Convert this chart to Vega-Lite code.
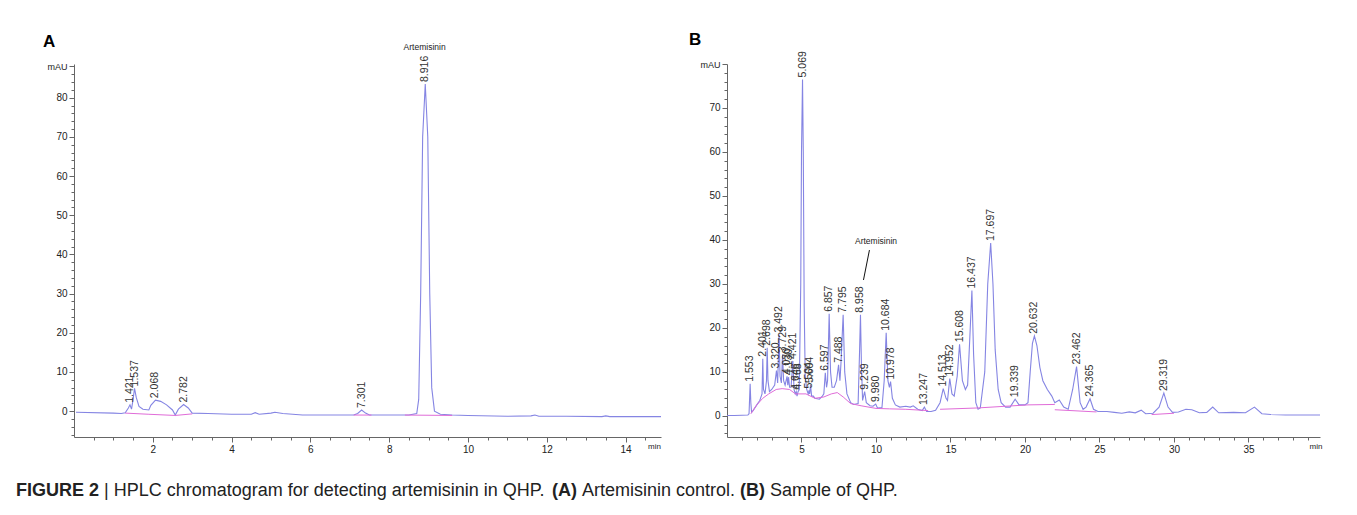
{
  "$schema": "https://vega.github.io/schema/vega-lite/v6.json",
  "autosize": {"type": "pad"},
  "padding": {"left": 16, "top": 30, "right": 0, "bottom": 0},
  "background": "white",
  "config": {
    "view": {"stroke": null},
    "font": "Liberation Sans",
    "axis": {
      "labelFont": "Liberation Sans",
      "labelColor": "#222",
      "domainColor": "#666",
      "tickColor": "#666",
      "grid": false,
      "title": null,
      "labelOverlap": false,
      "labelFlush": false,
      "labelBound": false
    }
  },
  "datasets": {
    "traceA": [
      {"t": 0.05, "v": -0.3}, {"t": 1.0, "v": -0.5}, {"t": 1.2, "v": -0.6}, {"t": 1.3, "v": -0.4},
      {"t": 1.38, "v": 0.8}, {"t": 1.421, "v": 1.6}, {"t": 1.46, "v": 0.5}, {"t": 1.5, "v": 3},
      {"t": 1.537, "v": 5.8}, {"t": 1.58, "v": 3.5}, {"t": 1.65, "v": 1.2}, {"t": 1.75, "v": 0.5},
      {"t": 1.9, "v": 0.3}, {"t": 1.95, "v": 1.5}, {"t": 2.068, "v": 2.8}, {"t": 2.2, "v": 2.5},
      {"t": 2.35, "v": 1.6}, {"t": 2.5, "v": 0.3}, {"t": 2.57, "v": -1.0}, {"t": 2.65, "v": 0.5},
      {"t": 2.782, "v": 1.7}, {"t": 2.9, "v": 0.8}, {"t": 3.0, "v": -0.5}, {"t": 3.4, "v": -0.6},
      {"t": 4.0, "v": -0.8}, {"t": 4.5, "v": -0.8}, {"t": 4.6, "v": -0.4}, {"t": 4.7, "v": -0.8},
      {"t": 5.0, "v": -0.5}, {"t": 5.1, "v": -0.3}, {"t": 5.3, "v": -0.6}, {"t": 5.8, "v": -1.0},
      {"t": 6.5, "v": -1.0}, {"t": 7.1, "v": -1.0}, {"t": 7.2, "v": -0.6}, {"t": 7.301, "v": 0.3},
      {"t": 7.4, "v": -0.5}, {"t": 7.5, "v": -1.0}, {"t": 8.0, "v": -1.0}, {"t": 8.5, "v": -1.0},
      {"t": 8.7, "v": -0.6}, {"t": 8.75, "v": 3}, {"t": 8.8, "v": 30}, {"t": 8.85, "v": 70},
      {"t": 8.916, "v": 83.5}, {"t": 8.98, "v": 70}, {"t": 9.03, "v": 30}, {"t": 9.08, "v": 6},
      {"t": 9.15, "v": 0}, {"t": 9.3, "v": -0.8}, {"t": 9.6, "v": -1.0}, {"t": 10.0, "v": -1.1},
      {"t": 11.0, "v": -1.3}, {"t": 11.6, "v": -1.2}, {"t": 11.7, "v": -1.0}, {"t": 11.8, "v": -1.3},
      {"t": 12.5, "v": -1.3}, {"t": 13.4, "v": -1.4}, {"t": 13.5, "v": -1.2}, {"t": 13.6, "v": -1.4},
      {"t": 14.9, "v": -1.4}
    ],
    "baseA": [
      {"seg": 1, "t": 1.3, "v": -0.5}, {"seg": 1, "t": 1.9, "v": -0.8}, {"seg": 1, "t": 2.57, "v": -1.1}, {"seg": 1, "t": 3.0, "v": -0.7},
      {"seg": 2, "t": 7.1, "v": -1.0}, {"seg": 2, "t": 7.55, "v": -1.0},
      {"seg": 3, "t": 8.4, "v": -1.0}, {"seg": 3, "t": 9.6, "v": -1.1}
    ],
    "labelsA": [
      {"t": 1.421, "v": 1.6, "lab": "1.421"}, {"t": 1.537, "v": 5.8, "lab": "1.537"},
      {"t": 2.068, "v": 2.8, "lab": "2.068"}, {"t": 2.782, "v": 1.7, "lab": "2.782"},
      {"t": 7.301, "v": 0.3, "lab": "7.301"}, {"t": 8.916, "v": 83.5, "lab": "8.916"}
    ],
    "noteA": [{"t": 8.9, "v": 93, "lab": "Artemisinin"}],
    "letterA": [{"t": -0.79, "v": 96.3, "lab": "A"}],
    "traceB": [
      {"t": 0.0, "v": 0.1}, {"t": 0.5, "v": 0.1}, {"t": 1.0, "v": 0.15}, {"t": 1.4, "v": 0.2},
      {"t": 1.48, "v": 0.5}, {"t": 1.553, "v": 7.3}, {"t": 1.6, "v": 3}, {"t": 1.65, "v": 0.8},
      {"t": 1.75, "v": 1.2}, {"t": 2.0, "v": 2.5}, {"t": 2.2, "v": 3.5}, {"t": 2.35, "v": 5},
      {"t": 2.401, "v": 13}, {"t": 2.45, "v": 6}, {"t": 2.55, "v": 5}, {"t": 2.65, "v": 8},
      {"t": 2.698, "v": 15.5}, {"t": 2.75, "v": 8}, {"t": 2.85, "v": 5.5}, {"t": 3.0, "v": 6},
      {"t": 3.2, "v": 7}, {"t": 3.32, "v": 10.3}, {"t": 3.4, "v": 7.5}, {"t": 3.492, "v": 18.5},
      {"t": 3.56, "v": 9}, {"t": 3.65, "v": 7.5}, {"t": 3.729, "v": 14}, {"t": 3.8, "v": 8},
      {"t": 3.9, "v": 7}, {"t": 4.03, "v": 9}, {"t": 4.08, "v": 7}, {"t": 4.13, "v": 8.8},
      {"t": 4.2, "v": 6.5}, {"t": 4.3, "v": 6.5}, {"t": 4.421, "v": 12.5}, {"t": 4.5, "v": 6},
      {"t": 4.58, "v": 5}, {"t": 4.646, "v": 5.5}, {"t": 4.7, "v": 4.5}, {"t": 4.768, "v": 5.5},
      {"t": 4.85, "v": 6}, {"t": 4.95, "v": 30}, {"t": 5.0, "v": 60}, {"t": 5.069, "v": 76.5},
      {"t": 5.12, "v": 60}, {"t": 5.18, "v": 25}, {"t": 5.25, "v": 9}, {"t": 5.35, "v": 6},
      {"t": 5.45, "v": 5}, {"t": 5.504, "v": 5.8}, {"t": 5.55, "v": 5}, {"t": 5.604, "v": 7},
      {"t": 5.68, "v": 4.5}, {"t": 5.8, "v": 4.5}, {"t": 5.9, "v": 4}, {"t": 6.2, "v": 3.8},
      {"t": 6.4, "v": 4.5}, {"t": 6.5, "v": 5}, {"t": 6.597, "v": 9.8}, {"t": 6.68, "v": 6.5},
      {"t": 6.75, "v": 8}, {"t": 6.857, "v": 23.2}, {"t": 6.95, "v": 10}, {"t": 7.05, "v": 6.5},
      {"t": 7.2, "v": 6.5}, {"t": 7.35, "v": 8}, {"t": 7.488, "v": 11.6}, {"t": 7.58, "v": 8},
      {"t": 7.65, "v": 12}, {"t": 7.795, "v": 23}, {"t": 7.9, "v": 10}, {"t": 8.05, "v": 5},
      {"t": 8.3, "v": 3}, {"t": 8.5, "v": 2.6}, {"t": 8.8, "v": 2.8}, {"t": 8.9, "v": 15},
      {"t": 8.958, "v": 23}, {"t": 9.02, "v": 12}, {"t": 9.1, "v": 3.5}, {"t": 9.239, "v": 5.5},
      {"t": 9.35, "v": 3}, {"t": 9.6, "v": 2.3}, {"t": 9.8, "v": 2.2}, {"t": 9.98, "v": 2.7},
      {"t": 10.1, "v": 1.8}, {"t": 10.4, "v": 1.9}, {"t": 10.55, "v": 8}, {"t": 10.684, "v": 18.9},
      {"t": 10.8, "v": 8}, {"t": 10.9, "v": 6.5}, {"t": 10.978, "v": 7.8}, {"t": 11.1, "v": 4},
      {"t": 11.3, "v": 2.5}, {"t": 11.6, "v": 2}, {"t": 12.0, "v": 2.2}, {"t": 12.3, "v": 2},
      {"t": 12.5, "v": 2.3}, {"t": 12.8, "v": 1.5}, {"t": 13.1, "v": 1.2}, {"t": 13.247, "v": 2},
      {"t": 13.4, "v": 1}, {"t": 13.7, "v": 1}, {"t": 14.0, "v": 1.3}, {"t": 14.3, "v": 3},
      {"t": 14.513, "v": 6.2}, {"t": 14.7, "v": 4}, {"t": 14.8, "v": 3.5}, {"t": 14.952, "v": 8.5},
      {"t": 15.1, "v": 5}, {"t": 15.25, "v": 4.5}, {"t": 15.45, "v": 9}, {"t": 15.608, "v": 16.3},
      {"t": 15.8, "v": 8}, {"t": 16.0, "v": 6}, {"t": 16.15, "v": 7}, {"t": 16.3, "v": 18},
      {"t": 16.437, "v": 28.5}, {"t": 16.55, "v": 14}, {"t": 16.7, "v": 3}, {"t": 16.85, "v": 1.5},
      {"t": 17.0, "v": 1.8}, {"t": 17.3, "v": 10}, {"t": 17.5, "v": 30}, {"t": 17.697, "v": 39.3},
      {"t": 17.85, "v": 30}, {"t": 18.0, "v": 15}, {"t": 18.2, "v": 6}, {"t": 18.4, "v": 3},
      {"t": 18.7, "v": 2}, {"t": 19.0, "v": 2}, {"t": 19.339, "v": 3.8}, {"t": 19.6, "v": 2.5},
      {"t": 20.0, "v": 2.5}, {"t": 20.2, "v": 3}, {"t": 20.35, "v": 10}, {"t": 20.5, "v": 16.5},
      {"t": 20.632, "v": 18.2}, {"t": 20.8, "v": 16}, {"t": 21.0, "v": 11}, {"t": 21.2, "v": 8},
      {"t": 21.5, "v": 6}, {"t": 21.8, "v": 4.5}, {"t": 22.0, "v": 3}, {"t": 22.3, "v": 3.6},
      {"t": 22.6, "v": 2}, {"t": 22.9, "v": 1.5}, {"t": 23.2, "v": 6}, {"t": 23.462, "v": 11.2},
      {"t": 23.7, "v": 3}, {"t": 23.9, "v": 1.5}, {"t": 24.1, "v": 2}, {"t": 24.365, "v": 3.9},
      {"t": 24.6, "v": 1.5}, {"t": 24.9, "v": 1}, {"t": 25.5, "v": 1}, {"t": 26.0, "v": 0.8},
      {"t": 26.5, "v": 0.6}, {"t": 27.0, "v": 0.9}, {"t": 27.4, "v": 0.7}, {"t": 27.8, "v": 1.3},
      {"t": 28.1, "v": 0.5}, {"t": 28.6, "v": 0.6}, {"t": 29.0, "v": 2}, {"t": 29.319, "v": 5.2},
      {"t": 29.6, "v": 2}, {"t": 29.9, "v": 0.8}, {"t": 30.3, "v": 0.9}, {"t": 30.8, "v": 1.5},
      {"t": 31.2, "v": 1.4}, {"t": 31.7, "v": 0.7}, {"t": 32.2, "v": 0.8}, {"t": 32.6, "v": 2},
      {"t": 33.0, "v": 0.7}, {"t": 34.0, "v": 0.8}, {"t": 34.8, "v": 0.7}, {"t": 35.4, "v": 2},
      {"t": 35.9, "v": 0.5}, {"t": 36.5, "v": 0.3}, {"t": 37.5, "v": 0.2}, {"t": 39.8, "v": 0.2}
    ],
    "baseB": [
      {"seg": 1, "t": 1.6, "v": 0.5}, {"seg": 1, "t": 2.0, "v": 2.5}, {"seg": 1, "t": 2.4, "v": 4},
      {"seg": 1, "t": 2.8, "v": 5}, {"seg": 1, "t": 3.3, "v": 6}, {"seg": 1, "t": 3.7, "v": 6.2},
      {"seg": 1, "t": 4.2, "v": 6}, {"seg": 1, "t": 4.6, "v": 5}, {"seg": 1, "t": 5.3, "v": 5},
      {"seg": 1, "t": 5.9, "v": 4}, {"seg": 1, "t": 6.5, "v": 4.3}, {"seg": 1, "t": 7.0, "v": 5},
      {"seg": 1, "t": 7.4, "v": 5.3}, {"seg": 1, "t": 7.8, "v": 4.3}, {"seg": 1, "t": 8.3, "v": 2.8},
      {"seg": 1, "t": 9.0, "v": 2.3}, {"seg": 1, "t": 10.0, "v": 1.7}, {"seg": 1, "t": 10.9, "v": 1.6},
      {"seg": 1, "t": 12.0, "v": 1.5}, {"seg": 1, "t": 13.5, "v": 1.2},
      {"seg": 2, "t": 14.3, "v": 1.5}, {"seg": 2, "t": 16.8, "v": 1.8}, {"seg": 2, "t": 20.2, "v": 2.5}, {"seg": 2, "t": 22.0, "v": 2.6},
      {"seg": 3, "t": 22.0, "v": 1.4}, {"seg": 3, "t": 24.8, "v": 0.9},
      {"seg": 4, "t": 28.5, "v": 0.3}, {"seg": 4, "t": 30.0, "v": 0.6}
    ],
    "labelsB": [
      {"t": 1.553, "v": 7.3, "lab": "1.553"}, {"t": 2.401, "v": 13, "lab": "2.401"},
      {"t": 2.698, "v": 15.5, "lab": "2.698"}, {"t": 3.32, "v": 10.3, "lab": "3.320"},
      {"t": 3.492, "v": 18.5, "lab": "3.492"}, {"t": 3.729, "v": 14, "lab": "3.729"},
      {"t": 4.03, "v": 9, "lab": "4.030"}, {"t": 4.13, "v": 8.8, "lab": "4.130"},
      {"t": 4.421, "v": 12.5, "lab": "4.421"}, {"t": 4.646, "v": 5.5, "lab": "4.646"},
      {"t": 4.768, "v": 5.5, "lab": "4.768"}, {"t": 5.069, "v": 76.5, "lab": "5.069"},
      {"t": 5.504, "v": 5.8, "lab": "5.504"}, {"t": 5.604, "v": 7, "lab": "5.604"},
      {"t": 6.597, "v": 9.8, "lab": "6.597"}, {"t": 6.857, "v": 23.2, "lab": "6.857"},
      {"t": 7.488, "v": 11.6, "lab": "7.488"}, {"t": 7.795, "v": 23, "lab": "7.795"},
      {"t": 8.958, "v": 23, "lab": "8.958"}, {"t": 9.239, "v": 5.5, "lab": "9.239"},
      {"t": 9.98, "v": 2.7, "lab": "9.980"}, {"t": 10.684, "v": 18.9, "lab": "10.684"},
      {"t": 10.978, "v": 7.8, "lab": "10.978"}, {"t": 13.247, "v": 2, "lab": "13.247"},
      {"t": 14.513, "v": 6.2, "lab": "14.513"}, {"t": 14.952, "v": 8.5, "lab": "14.952"},
      {"t": 15.608, "v": 16.3, "lab": "15.608"}, {"t": 16.437, "v": 28.5, "lab": "16.437"},
      {"t": 17.697, "v": 39.3, "lab": "17.697"}, {"t": 19.339, "v": 3.8, "lab": "19.339"},
      {"t": 20.632, "v": 18.2, "lab": "20.632"}, {"t": 23.462, "v": 11.2, "lab": "23.462"},
      {"t": 24.365, "v": 3.9, "lab": "24.365"}, {"t": 29.319, "v": 5.2, "lab": "29.319"}
    ],
    "noteB": [{"t": 10.0, "v": 39.8, "lab": "Artemisinin"}],
    "letterB": [{"t": -2.55, "v": 87.3, "lab": "B"}],
    "leaderB": [{"t1": 9.16, "v1": 30.9, "t2": 9.56, "v2": 37.7}],
    "caption": [
      {"s": "FIGURE 2", "p": 0, "b": 1},
      {"s": "| HPLC chromatogram for detecting artemisinin in QHP.", "p": 4.89, "b": 0},
      {"s": "(A)", "p": 29.769, "b": 1},
      {"s": "Artemisinin control.", "p": 31.435, "b": 0},
      {"s": "(B)", "p": 40.215, "b": 1},
      {"s": "Sample of QHP.", "p": 41.881, "b": 0}
    ]
  },
  "vconcat": [
    {
      "hconcat": [
        {
          "width": 587,
          "height": 373,
          "layer": [
            {
              "data": {"name": "traceA"},
              "mark": {"type": "line", "color": "#8585e3", "strokeWidth": 1.1},
              "encoding": {
                "x": {"field": "t", "type": "quantitative", "scale": {"domain": [0, 14.9], "nice": false, "zero": false},
                  "axis": {
                    "values": [0.5,1,1.5,2,2.5,3,3.5,4,4.5,5,5.5,6,6.5,7,7.5,8,8.5,9,9.5,10,10.5,11,11.5,12,12.5,13,13.5,14,14.5,14.72],
                    "tickCount": 500,
                    "labelExpr": "datum.value === 14.72 ? 'min' : (datum.value % 2 === 0 ? '' + datum.value : '')",
                    "tickSize": {"condition": {"test": "datum.value % 2 === 0", "value": 5}, "value": 3},
                    "tickOpacity": {"condition": {"test": "datum.value === 14.72", "value": 0}, "value": 1},
                    "labelFontSize": {"condition": {"test": "datum.value === 14.72", "value": 8}, "value": 10},
                    "labelPadding": 2,
                    "labelOverlap": false
                  }},
                "y": {"field": "v", "type": "quantitative", "scale": {"domain": [-6.6, 88.6], "nice": false, "zero": false},
                  "axis": {
                    "values": [-6,-4,-2,0,2,4,6,8,10,12,14,16,18,20,22,24,26,28,30,32,34,36,38,40,42,44,46,48,50,52,54,56,58,60,62,64,66,68,70,72,74,76,78,80,82,84,86,88],
                    "tickCount": 500,
                    "labelExpr": "datum.value === 88 ? 'mAU' : (datum.value % 10 === 0 ? '' + datum.value : '')",
                    "tickSize": {"condition": {"test": "datum.value % 10 === 0 || datum.value === 88", "value": 5}, "value": 3},
                    "labelFontSize": {"condition": {"test": "datum.value === 88", "value": 9}, "value": 10},
                    "labelPadding": 2,
                    "labelOverlap": false,
                    "minExtent": 30,
                    "maxExtent": 30
                  }}
              }
            },
            {
              "data": {"name": "baseA"},
              "mark": {"type": "line", "color": "#e06cd8", "strokeWidth": 1},
              "encoding": {
                "x": {"field": "t", "type": "quantitative"},
                "y": {"field": "v", "type": "quantitative"},
                "detail": {"field": "seg", "type": "nominal"}
              }
            },
            {
              "data": {"name": "labelsA"},
              "mark": {"type": "text", "angle": 270, "align": "left", "baseline": "middle", "dx": 2, "fontSize": 10.5, "color": "#333"},
              "encoding": {
                "x": {"field": "t", "type": "quantitative"},
                "y": {"field": "v", "type": "quantitative"},
                "text": {"field": "lab", "type": "nominal"}
              }
            },
            {
              "data": {"name": "noteA"},
              "mark": {"type": "text", "align": "center", "baseline": "middle", "fontSize": 8.5, "color": "#222"},
              "encoding": {
                "x": {"field": "t", "type": "quantitative"},
                "y": {"field": "v", "type": "quantitative"},
                "text": {"field": "lab", "type": "nominal"}
              }
            },
            {
              "data": {"name": "letterA"},
              "mark": {"type": "text", "align": "left", "baseline": "top", "fontSize": 17, "fontWeight": "bold", "color": "#000"},
              "encoding": {
                "x": {"field": "t", "type": "quantitative"},
                "y": {"field": "v", "type": "quantitative"},
                "text": {"field": "lab", "type": "nominal"}
              }
            }
          ]
        },
        {
          "width": 593,
          "height": 373,
          "layer": [
            {
              "data": {"name": "traceB"},
              "mark": {"type": "line", "color": "#8585e3", "strokeWidth": 1.1},
              "encoding": {
                "x": {"field": "t", "type": "quantitative", "scale": {"domain": [0, 39.8], "nice": false, "zero": false},
                  "axis": {
                    "values": [1,2,3,4,5,6,7,8,9,10,11,12,13,14,15,16,17,18,19,20,21,22,23,24,25,26,27,28,29,30,31,32,33,34,35,36,37,38,39,39.5],
                    "tickCount": 500,
                    "labelExpr": "datum.value === 39.5 ? 'min' : (datum.value % 5 === 0 ? '' + datum.value : '')",
                    "tickSize": {"condition": {"test": "datum.value % 5 === 0", "value": 5}, "value": 3},
                    "tickOpacity": {"condition": {"test": "datum.value === 39.5", "value": 0}, "value": 1},
                    "labelFontSize": {"condition": {"test": "datum.value === 39.5", "value": 8}, "value": 10},
                    "labelPadding": 2,
                    "labelOverlap": false
                  }},
                "y": {"field": "v", "type": "quantitative", "scale": {"domain": [-4.8, 80], "nice": false, "zero": false},
                  "axis": {
                    "values": [-4,-2,0,2,4,6,8,10,12,14,16,18,20,22,24,26,28,30,32,34,36,38,40,42,44,46,48,50,52,54,56,58,60,62,64,66,68,70,72,74,76,78,80],
                    "tickCount": 500,
                    "labelExpr": "datum.value === 80 ? 'mAU' : (datum.value % 10 === 0 ? '' + datum.value : '')",
                    "tickSize": {"condition": {"test": "datum.value % 10 === 0", "value": 5}, "value": 3},
                    "labelFontSize": {"condition": {"test": "datum.value === 80", "value": 9}, "value": 10},
                    "labelPadding": 2,
                    "labelOverlap": false,
                    "minExtent": 30,
                    "maxExtent": 30
                  }}
              }
            },
            {
              "data": {"name": "baseB"},
              "mark": {"type": "line", "color": "#e06cd8", "strokeWidth": 1},
              "encoding": {
                "x": {"field": "t", "type": "quantitative"},
                "y": {"field": "v", "type": "quantitative"},
                "detail": {"field": "seg", "type": "nominal"}
              }
            },
            {
              "data": {"name": "labelsB"},
              "mark": {"type": "text", "angle": 270, "align": "left", "baseline": "middle", "dx": 2, "fontSize": 10.5, "color": "#333"},
              "encoding": {
                "x": {"field": "t", "type": "quantitative"},
                "y": {"field": "v", "type": "quantitative"},
                "text": {"field": "lab", "type": "nominal"}
              }
            },
            {
              "data": {"name": "leaderB"},
              "mark": {"type": "rule", "color": "#111", "strokeWidth": 1},
              "encoding": {
                "x": {"field": "t1", "type": "quantitative"},
                "y": {"field": "v1", "type": "quantitative"},
                "x2": {"field": "t2"},
                "y2": {"field": "v2"}
              }
            },
            {
              "data": {"name": "noteB"},
              "mark": {"type": "text", "align": "center", "baseline": "middle", "fontSize": 8.5, "color": "#222"},
              "encoding": {
                "x": {"field": "t", "type": "quantitative"},
                "y": {"field": "v", "type": "quantitative"},
                "text": {"field": "lab", "type": "nominal"}
              }
            },
            {
              "data": {"name": "letterB"},
              "mark": {"type": "text", "align": "left", "baseline": "top", "fontSize": 17, "fontWeight": "bold", "color": "#000"},
              "encoding": {
                "x": {"field": "t", "type": "quantitative"},
                "y": {"field": "v", "type": "quantitative"},
                "text": {"field": "lab", "type": "nominal"}
              }
            }
          ]
        }
      ],
      "spacing": 66,
      "bounds": "flush"
    },
    {
      "width": 884,
      "height": 20,
      "data": {"name": "caption"},
      "encoding": {
        "x": {"field": "p", "type": "quantitative", "scale": {"domain": [0, 49.106], "nice": false, "zero": false}, "axis": null},
        "text": {"field": "s", "type": "nominal"}
      },
      "layer": [
        {
          "transform": [{"filter": "datum.b === 1"}],
          "mark": {"type": "text", "align": "left", "baseline": "middle", "dx": -58, "fontSize": 18, "fontWeight": "bold", "color": "#222"}
        },
        {
          "transform": [{"filter": "datum.b === 0"}],
          "mark": {"type": "text", "align": "left", "baseline": "middle", "dx": -58, "fontSize": 18, "color": "#222"}
        }
      ]
    }
  ],
  "spacing": 27
}
